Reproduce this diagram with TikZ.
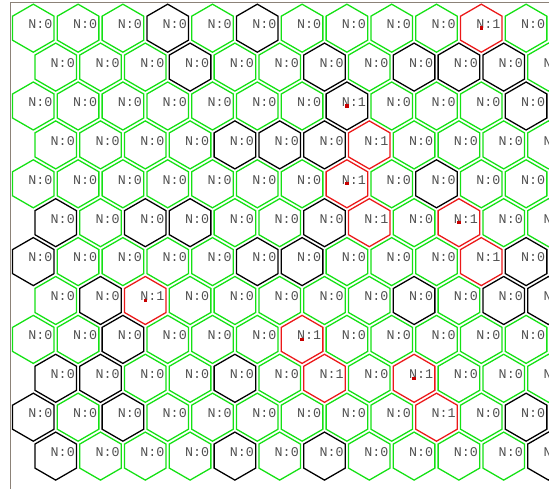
\documentclass[tikz,border=0pt]{standalone}
\usepackage{fontspec}
\newfontfamily\cellfont{Liberation Mono}
\usetikzlibrary{shapes.geometric}
\definecolor{hexgreen}{RGB}{20,225,20}
\definecolor{hexred}{RGB}{235,25,25}
\definecolor{dotred}{RGB}{200,0,0}
\definecolor{cntgray}{RGB}{80,80,80}
\definecolor{framegray}{RGB}{140,130,120}
\tikzset{hex/.style={regular polygon,regular polygon sides=6,regular polygon rotate=30,minimum size=1.44cm,inner sep=0pt,outer sep=0pt,line width=1.1pt},hex g/.style={hex,draw=hexgreen},hex k/.style={hex,draw=black},hex r/.style={hex,draw=hexred},hex d/.style={hex,draw=hexred},hex b/.style={hex,draw=black},cnt/.style={font=\cellfont\fontsize{11.4}{12}\selectfont,text=cntgray,anchor=west,inner sep=0pt},frame/.style={draw=framegray,line width=0.8pt}}
\def\cntg{0}\def\cntk{0}\def\cntr{1}\def\cntd{1}\def\cntb{1}
\begin{document}
\begin{tikzpicture}[x=0.03cm,y=-0.03cm]
\useasboundingbox (0,0) rectangle (549,489);
\clip (0,0) rectangle (549,489);
\draw[frame] (10.3,489) -- (10.3,2.7) -- (549,2.7);
% g/k = empty cell, r/d/b = one node, d/b with marker
\foreach \r/\row in {0/{g,g,g,k,g,k,g,g,g,g,d,g},1/{g,g,g,k,g,g,k,g,k,k,k,g},2/{g,g,g,g,g,g,g,b,g,g,g,k},3/{g,g,g,g,k,k,k,r,g,g,g,g},4/{g,g,g,g,g,g,g,d,g,k,g,g},5/{k,g,k,k,g,g,k,r,g,d,g,g},6/{k,g,g,g,g,k,k,g,g,g,r,k},7/{g,k,d,g,g,g,g,g,k,g,k,k},8/{g,g,k,g,g,g,d,g,g,g,g,g},9/{k,k,g,g,k,g,r,g,d,g,g,g},10/{k,g,k,g,g,g,g,g,g,r,g,k},11/{k,g,g,g,k,g,k,g,g,g,g,k}}{
\foreach \c [count=\k from 0] in \row {
\pgfmathsetmacro\xx{33.3+44.8*\k+22.4*mod(\r,2)}
\pgfmathsetmacro\yy{28.2+38.9*\r}
\node[hex \c] (h-\r-\k) at (\xx,\yy) {};
\node[cnt] (n-\r-\k) at ([shift={(-5.2,-4)}]h-\r-\k.center) {N:\csname cnt\c\endcsname};
}
}
\foreach \r/\k in {0/10,2/7,4/7,5/9,7/2,8/6,9/8}
\fill[dotred] ([shift={(-1.7,-1.7)}]h-\r-\k.center) rectangle ([shift={(1.7,1.7)}]h-\r-\k.center);
\end{tikzpicture}
\end{document}
